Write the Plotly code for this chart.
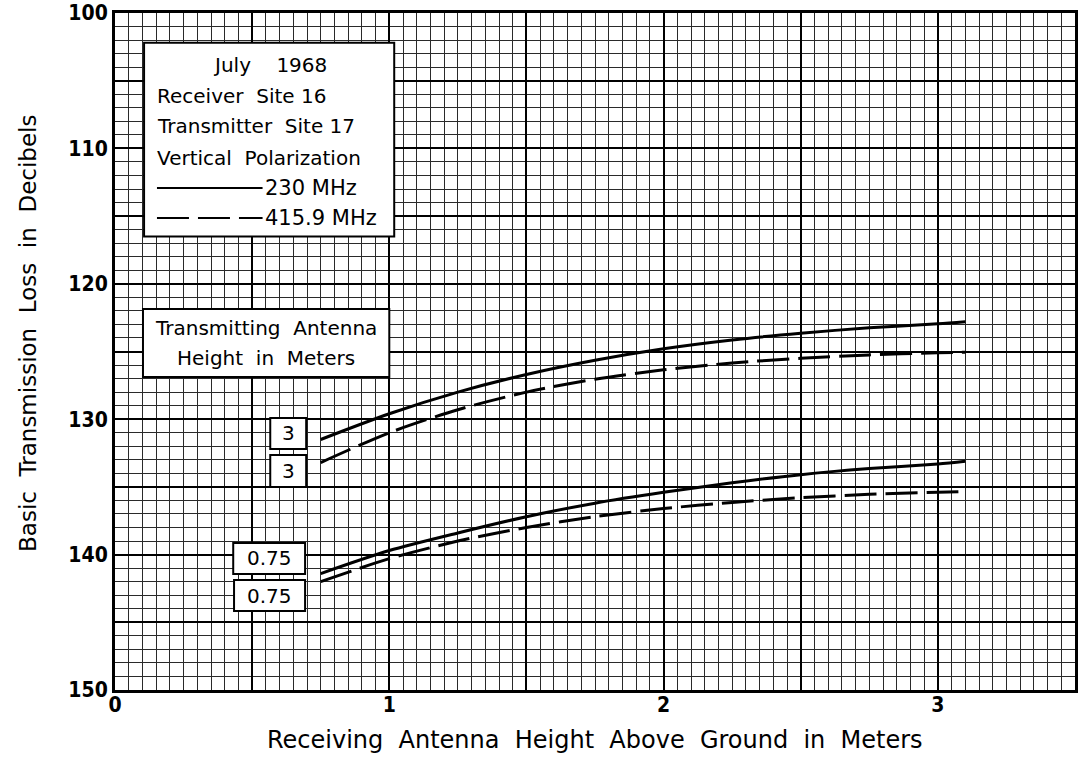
import plotly.graph_objects as go

# ---------------- data ----------------
rx_height = [0.75, 1.0, 1.25, 1.5, 1.75, 2.0, 2.25, 2.5, 2.75, 3.0, 3.1]
loss_230_tx3 = [131.5, 129.6, 128.0, 126.7, 125.65, 124.8, 124.15, 123.65, 123.25, 122.95, 122.8]
loss_416_tx3 = [133.2, 131.0, 129.3, 128.0, 127.05, 126.35, 125.85, 125.5, 125.25, 125.1, 125.05]
loss_230_tx075 = [141.4, 139.7, 138.4, 137.2, 136.2, 135.4, 134.7, 134.1, 133.65, 133.3, 133.1]
loss_416_tx075 = [142.0, 140.3, 139.0, 138.0, 137.2, 136.6, 136.15, 135.8, 135.55, 135.4, 135.35]

x_tickvals = [0, 0.5, 1, 1.5, 2, 2.5, 3, 3.5]
x_ticktext = ["0", "", "1", "", "2", "", "3", ""]
y_tickvals = [100, 105, 110, 115, 120, 125, 130, 135, 140, 145, 150]
y_ticktext = ["100", "", "110", "", "120", "", "130", "", "140", "", "150"]

legend_header = ["July    1968", "Receiver  Site 16", "Transmitter  Site 17", "Vertical  Polarization"]
freq_labels = ["230 MHz", "415.9 MHz"]
tx_box_title = ["Transmitting  Antenna", "Height  in  Meters"]
tx_labels = ["3", "3", "0.75", "0.75"]
x_title = "Receiving Antenna Height Above Ground in Meters"
y_title = "Basic Transmission Loss in Decibels"

FONT = "DejaVu Sans, Noto Sans, sans-serif"
NARROW = "DejaVu Sans Condensed, Liberation Sans Narrow, Roboto Condensed, Liberation Sans, sans-serif"
DASH = "32px,9px"
GAP = " \u00a0"


def widen(s):
    return s.replace("  ", GAP).replace("\u00a0 ", "\u00a0\u00a0")


fig = go.Figure()
series = [
    (loss_230_tx3, "solid"),
    (loss_416_tx3, DASH),
    (loss_230_tx075, "solid"),
    (loss_416_tx075, DASH),
]
for ys, d in series:
    fig.add_trace(go.Scatter(
        x=rx_height, y=ys, mode="lines",
        line=dict(color="black", width=3, dash=d, shape="spline", smoothing=0.8),
        showlegend=False, hoverinfo="skip"))

shapes = []
annotations = []


def box(x0, x1, y0, y1):
    shapes.append(dict(type="rect", xref="x", yref="y", x0=x0, x1=x1, y0=y0, y1=y1,
                       fillcolor="white", line=dict(color="black", width=2), layer="above"))


def text(x, y, s, size=20, anchor="center"):
    annotations.append(dict(x=x, y=y, xref="x", yref="y", text=s, showarrow=False,
                            xanchor=anchor, yanchor="middle",
                            font=dict(family=FONT, size=size, color="black")))


# legend / info box
box(0.106, 1.018, 102.2, 116.5)
text(0.566, 103.84, legend_header[0].replace(" ", "\u00a0"))
for i, yy in enumerate([106.13, 108.35, 110.71]):
    text(0.146, yy, widen(legend_header[i + 1]), anchor="left")
for lab, yy, d in [(freq_labels[0], 112.92, "solid"), (freq_labels[1], 115.14, DASH)]:
    shapes.append(dict(type="line", xref="x", yref="y", x0=0.153, x1=0.538, y0=yy, y1=yy,
                       line=dict(color="black", width=2, dash=d), layer="above"))
    text(0.538, yy, lab, size=21, anchor="left")

# transmitting antenna box
box(0.102, 1.0, 121.86, 126.88)
text(0.551, 123.26, widen(tx_box_title[0]))
text(0.551, 125.48, widen(tx_box_title[1]))

# curve labels
for (x0, x1, y0, y1), lab in zip(
        [(0.566, 0.697, 129.91, 132.2), (0.566, 0.697, 132.64, 135.0),
         (0.431, 0.693, 139.14, 141.43), (0.434, 0.693, 141.88, 144.17)], tx_labels):
    box(x0, x1, y0, y1)
    text((x0 + x1) / 2, (y0 + y1) / 2, lab, size=20)

# axis titles
annotations.append(dict(x=0.5, y=-0.074, xref="paper", yref="paper",
                        text=x_title.replace(" ", GAP), showarrow=False,
                        xanchor="center", yanchor="middle",
                        font=dict(family=FONT, size=24, color="black")))
annotations.append(dict(x=-0.0906, y=0.526, xref="paper", yref="paper",
                        text=y_title.replace(" ", GAP), showarrow=False, textangle=-90,
                        xanchor="center", yanchor="middle",
                        font=dict(family=FONT, size=23, color="black")))

fig.update_layout(
    width=1080, height=760,
    margin=dict(l=115, r=5, t=13, b=70),
    paper_bgcolor="white", plot_bgcolor="white",
    shapes=shapes, annotations=annotations,
    xaxis=dict(
        range=[0, 3.5], tickmode="array", tickvals=x_tickvals, ticktext=x_ticktext,
        showgrid=True, gridcolor="black", gridwidth=2,
        minor=dict(dtick=0.05, tick0=0, showgrid=True, gridcolor="#2a2a2a", gridwidth=1),
        showline=True, linecolor="black", linewidth=3, mirror=True,
        ticks="", zeroline=False, automargin=False, ticklabelstandoff=-6,
        tickfont=dict(family=NARROW, size=21, color="black", weight="bold"),
    ),
    yaxis=dict(
        range=[150, 100], tickmode="array", tickvals=y_tickvals, ticktext=y_ticktext,
        showgrid=True, gridcolor="black", gridwidth=2,
        minor=dict(dtick=1, tick0=100, showgrid=True, gridcolor="#2a2a2a", gridwidth=1),
        showline=True, linecolor="black", linewidth=3, mirror=True,
        ticks="", zeroline=False, automargin=False,
        tickfont=dict(family=NARROW, size=21, color="black", weight="bold"),
    ),
)

fig.write_html("out.html", config={"displayModeBar": False},
               post_script="document.body.style.margin='0';")
